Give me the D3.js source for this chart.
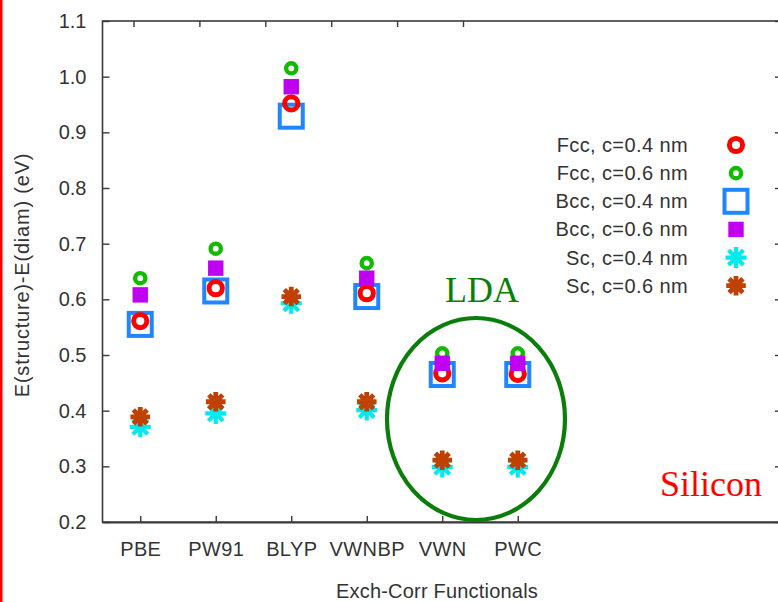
<!DOCTYPE html>
<html>
<head>
<meta charset="utf-8">
<script src="https://cdn.jsdelivr.net/npm/d3@7/dist/d3.min.js"></script>
<style>
  html, body { margin: 0; padding: 0; background: #fff; }
  svg { display: block; }
  .sans { font-family: "Liberation Sans", Arial, sans-serif; fill: #333; }
  .serif { font-family: "Liberation Serif", "Times New Roman", serif; }
</style>
</head>
<body>
<svg id="chart" width="778" height="602"></svg>
<script>
// Exchange-correlation functionals on the x axis
const functionals = ["PBE", "PW91", "BLYP", "VWNBP", "VWN", "PWC"];

// Energy differences E(structure) - E(diamond), eV
const fcc04 = [0.561, 0.620, 0.952, 0.611, 0.467, 0.466];
const fcc06 = [0.638, 0.691, 1.015, 0.665, 0.503, 0.503];
const bcc04 = [0.555, 0.615, 0.929, 0.605, 0.465, 0.465];
const bcc06 = [0.608, 0.656, 0.982, 0.638, 0.485, 0.485];
const sc04  = [0.371, 0.395, 0.593, 0.401, 0.299, 0.299];
const sc06  = [0.389, 0.416, 0.605, 0.416, 0.311, 0.311];

const yTicks = [0.2, 0.3, 0.4, 0.5, 0.6, 0.7, 0.8, 0.9, 1.0, 1.1];
const topTicks = [1, 2, 3, 4, 5, 6];

const legendLabels = ["Fcc, c=0.4 nm", "Fcc, c=0.6 nm", "Bcc, c=0.4 nm",
                      "Bcc, c=0.6 nm", "Sc, c=0.4 nm", "Sc, c=0.6 nm"];

const svg = d3.select("#chart");
const frame = { left: 102.5, top: 21, right: 782, bottom: 522 };

const x = d3.scaleLinear().domain([0.5, 9.5]).range([frame.left, frame.right]);
const xTop = d3.scaleLinear().domain([1, 6]).range([133.5, 463]);
const y = d3.scaleLinear().domain([0.2, 1.1]).range([frame.bottom, frame.top]);

// red rule down the left edge of the page
svg.append("rect").attr("x", 0).attr("y", 0).attr("width", 2.5).attr("height", 602).attr("fill", "#ff0000");

// plot frame
svg.append("rect")
  .attr("x", frame.left).attr("y", frame.top)
  .attr("width", frame.right - frame.left).attr("height", frame.bottom - frame.top)
  .attr("fill", "none").attr("stroke", "#3a3a3a").attr("stroke-width", 1.6);
svg.append("line")
  .attr("x1", frame.left).attr("x2", frame.right)
  .attr("y1", frame.bottom + 0.8).attr("y2", frame.bottom + 0.8)
  .attr("stroke", "#3a3a3a").attr("stroke-width", 1.6);

function styleAxis(g) {
  g.select(".domain").remove();
  g.selectAll(".tick line").attr("stroke", "#3a3a3a").attr("stroke-width", 1.4);
  g.selectAll(".tick text").attr("class", "sans").attr("font-size", 20).attr("fill", "#333")
    .attr("font-family", "Liberation Sans, Arial, sans-serif");
}

// left axis with inward ticks
svg.append("g")
  .attr("transform", `translate(${frame.left},0)`)
  .call(d3.axisLeft(y).tickValues(yTicks).tickFormat(d3.format(".1f")).tickSizeInner(-7).tickSizeOuter(0).tickPadding(16))
  .call(styleAxis);

// right axis ticks only
svg.append("g")
  .attr("transform", `translate(${frame.right},0)`)
  .call(d3.axisRight(y).tickValues(yTicks).tickFormat("").tickSizeInner(-7).tickSizeOuter(0))
  .call(styleAxis);

// bottom axis with category labels
svg.append("g")
  .attr("transform", `translate(0,${frame.bottom})`)
  .call(d3.axisBottom(x).tickValues(functionals.map((d, i) => i + 1))
    .tickFormat((d, i) => functionals[i]).tickSizeInner(-6).tickSizeOuter(0).tickPadding(20))
  .call(styleAxis)
  .call(g => g.selectAll(".tick text").attr("letter-spacing", 0.4));

// top axis ticks only
svg.append("g")
  .attr("transform", `translate(0,${frame.top})`)
  .call(d3.axisTop(xTop).tickValues(topTicks).tickFormat("").tickSizeInner(-6).tickSizeOuter(0))
  .call(styleAxis);

// axis titles
svg.append("text").attr("class", "sans")
  .attr("x", 437).attr("y", 597.5).attr("text-anchor", "middle").attr("font-size", 20)
  .attr("letter-spacing", 0.2)
  .text("Exch-Corr Functionals");
svg.append("text").attr("class", "sans")
  .attr("transform", "translate(29,275) rotate(-90)")
  .attr("text-anchor", "middle").attr("font-size", 20).attr("letter-spacing", 0.8)
  .text("E(structure)-E(diam) (eV)");

// marker symbol painters
function starPath(r) {
  const p = d3.path();
  [0, 45, 90, 135].forEach(a => {
    const t = a * Math.PI / 180;
    p.moveTo(-r * Math.cos(t), -r * Math.sin(t));
    p.lineTo(r * Math.cos(t), r * Math.sin(t));
  });
  return p.toString();
}
const markers = {
  ringBig:   (g, c) => g.append("circle").attr("r", 6.6).attr("fill", "none").attr("stroke", c).attr("stroke-width", 5),
  ringSmall: (g, c) => g.append("circle").attr("r", 5.1).attr("fill", "none").attr("stroke", c).attr("stroke-width", 4.4),
  squareOpen: (g, c) => g.append("rect").attr("x", -11.5).attr("y", -11.5).attr("width", 23).attr("height", 23)
                          .attr("fill", "none").attr("stroke", c).attr("stroke-width", 4),
  squareFill: (g, c) => g.append("rect").attr("x", -7.7).attr("y", -7.7).attr("width", 15.4).attr("height", 15.4).attr("fill", c),
  star: (g, c) => {
    g.append("path").attr("d", starPath(10.5)).attr("stroke", c).attr("stroke-width", 4.2).attr("fill", "none");
  },
  starBlock: (g, c) => {
    g.append("path").attr("d", starPath(9.8)).attr("stroke", c).attr("stroke-width", 4.8).attr("fill", "none");
    g.append("rect").attr("x", -5.5).attr("y", -5.5).attr("width", 11).attr("height", 11).attr("fill", c);
  }
};

// series in drawing order (later ones sit on top)
const series = [
  { label: legendLabels[2], values: bcc04, color: "#1f86ff", mark: "squareOpen", row: 2 },
  { label: legendLabels[0], values: fcc04, color: "#ff0000", mark: "ringBig",    row: 0 },
  { label: legendLabels[1], values: fcc06, color: "#10bb00", mark: "ringSmall",  row: 1 },
  { label: legendLabels[3], values: bcc06, color: "#c000f0", mark: "squareFill", row: 3 },
  { label: legendLabels[4], values: sc04,  color: "#00eaf0", mark: "star",       row: 4 },
  { label: legendLabels[5], values: sc06,  color: "#c04000", mark: "starBlock",  row: 5 }
];

const plot = svg.append("g");
series.forEach(s => {
  s.values.forEach((v, i) => {
    const g = plot.append("g").attr("transform", `translate(${x(i + 1)},${y(v)})`);
    markers[s.mark](g, s.color);
  });
});

// legend
const legendRow = d3.scaleLinear().domain([0, 5]).range([145, 285.7]);
const legend = svg.append("g");
series.forEach(s => {
  const yy = legendRow(s.row);
  legend.append("text").attr("class", "sans")
    .attr("x", 688).attr("y", yy).attr("dy", "0.35em").attr("text-anchor", "end")
    .attr("font-size", 20).attr("letter-spacing", 0.4).text(s.label);
  const g = legend.append("g").attr("transform", `translate(736,${yy})`);
  markers[s.mark](g, s.color);
});

// LDA group outline and annotations
svg.append("ellipse")
  .attr("cx", 476).attr("cy", 419).attr("rx", 89).attr("ry", 101)
  .attr("fill", "none").attr("stroke", "#0a7d0a").attr("stroke-width", 4.2);
svg.append("text").attr("class", "serif")
  .attr("x", 482).attr("y", 302).attr("text-anchor", "middle").attr("font-size", 36).attr("fill", "#0a800a")
  .text("LDA");
svg.append("text").attr("class", "serif")
  .attr("x", 711).attr("y", 496).attr("text-anchor", "middle").attr("font-size", 36).attr("fill", "#ff0000")
  .text("Silicon");
</script>
</body>
</html>
